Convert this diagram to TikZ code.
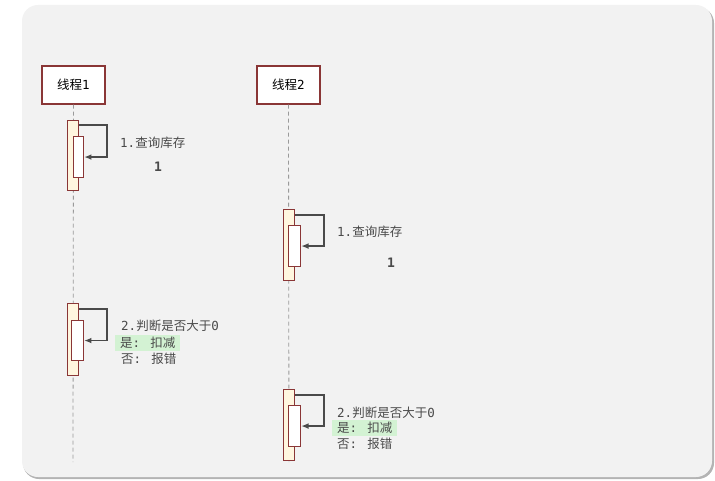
\documentclass[tikz,border=0pt]{standalone}
\usepackage{fontspec}
\usepackage{tikz}
\usetikzlibrary{arrows.meta,positioning,calc}
\newfontfamily\cjk{Noto Sans CJK SC}
\newfontfamily\mono{DejaVu Sans Mono}
\definecolor{Panel}{HTML}{F2F2F2}
\definecolor{Shade}{HTML}{B4B4B4}
\definecolor{Maroon}{HTML}{8A3636}
\definecolor{Cream}{HTML}{FFF6DF}
\definecolor{Life}{HTML}{9A9A9A}
\definecolor{Ink}{HTML}{4A4A4A}
\definecolor{Mint}{HTML}{D3F2D3}
\newcommand{\lbltxt}[2]{{\mono #1}{\cjk #2}}
\tikzset{
  thread/.style={draw=Maroon,fill=white,line width=1.3pt,minimum width=63pt,minimum height=38pt,inner sep=0pt,font=\fontsize{12.5}{14}\selectfont},
  actout/.style={draw=Maroon,fill=Cream,line width=1.1pt,minimum width=11pt,inner sep=0pt,anchor=north west},
  actin/.style={draw=Maroon,fill=white,line width=1.1pt,minimum width=11pt,inner sep=0pt,anchor=north west},
  lifeline/.style={draw=Life,line width=.8pt,dash pattern=on 4pt off 3pt},
  selfcall/.style={-{Latex[length=2.6mm,width=2mm]},draw=Ink,line width=1.3pt},
  lbl/.style={anchor=west,inner sep=0pt,text=Ink,font=\fontsize{12.5}{14}\selectfont},
  hl/.style={lbl,fill=Mint,inner xsep=5pt,inner ysep=2pt},
  count/.style={inner sep=0pt,text=Ink,font=\mono\bfseries\fontsize{13}{15}\selectfont}
}
\begin{document}
\begin{tikzpicture}[x=1pt,y=-1pt]
  \useasboundingbox (0,0) rectangle (715,481);
  % panel
  \fill[Shade,rounded corners=16pt] (23,7) rectangle (714,479);
  \fill[Panel,rounded corners=16pt] (22,5) rectangle (712,477);
  % threads
  \node[thread] (t1) at (73.5,85) {{\cjk 线程}{\mono 1}};
  \node[thread] (t2) at (288.5,85) {{\cjk 线程}{\mono 2}};
  \coordinate (e1) at (73,462);
  \coordinate (e2) at (289,462);
  \draw[lifeline] (t1.south) -- (e1);
  \draw[lifeline] (t2.south) -- (e2);
  % thread 1: query
  \node[actout,minimum height=70pt] (a1) at (67,120) {};
  \node[actin,minimum height=41pt,minimum width=10pt] (b1) at (73,136) {};
  \draw[selfcall] ([yshift=-5pt]a1.north east) -- ++(28,0) |- (b1.east);
  \node[lbl] (q1) at (120,143) {\lbltxt{1.}{查询库存}};
  \node[count] (n1) at (158,167) {1};
  % thread 2: query
  \node[actout,minimum height=71pt] (a2) at (283,209) {};
  \node[actin,minimum height=41pt,minimum width=12pt] (b2) at (288,225) {};
  \draw[selfcall] ([yshift=-6pt]a2.north east) -- ++(29,0) |- (b2.east);
  \node[lbl] (q2) at (337,232) {\lbltxt{1.}{查询库存}};
  \node[count] (n2) at (391,263) {1};
  % thread 1: check
  \node[actout,minimum height=72pt] (a3) at (67,303) {};
  \node[actin,minimum height=40pt,minimum width=12pt] (b3) at (71,320) {};
  \draw[selfcall] ([yshift=-6pt]a3.north east) -- ++(28,0) |- (b3.east);
  \node[lbl] (c1) at (121,326) {\lbltxt{2.}{判断是否大于}{\mono 0}};
  \node[hl] (y1) at (115,343) {{\cjk 是}{\mono: }{\cjk 扣减}};
  \node[lbl] (f1) at (121,359) {{\cjk 否}{\mono: }{\cjk 报错}};
  % thread 2: check
  \node[actout,minimum height=71pt] (a4) at (283,389) {};
  \node[actin,minimum height=41pt,minimum width=12pt] (b4) at (288,405) {};
  \draw[selfcall] ([yshift=-6pt]a4.north east) -- ++(29,0) |- (b4.east);
  \node[lbl] (c2) at (337,413) {\lbltxt{2.}{判断是否大于}{\mono 0}};
  \node[hl] (y2) at (332,428) {{\cjk 是}{\mono: }{\cjk 扣减}};
  \node[lbl] (f2) at (337,444) {{\cjk 否}{\mono: }{\cjk 报错}};
\end{tikzpicture}
\end{document}
